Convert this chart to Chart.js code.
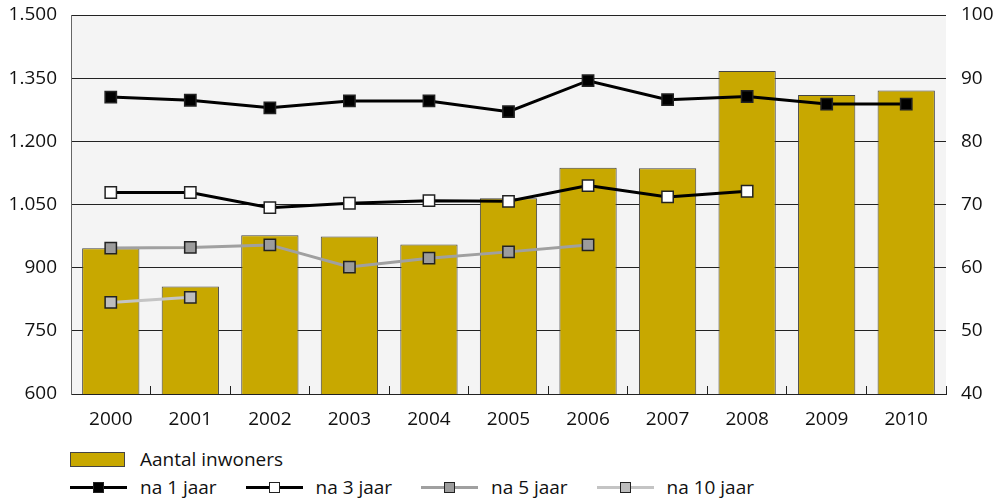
<!DOCTYPE html>
<html>
<head>
<meta charset="utf-8">
<script src="https://cdn.jsdelivr.net/npm/chart.js@4"></script>
<style>
  body { margin: 0; background: #fff; width: 1001px; height: 498px; overflow: hidden; position: relative; font-family: 'Open Sans', sans-serif; }
  #wrap { position: absolute; left: 0; top: 0; width: 1001px; height: 440px; }
  .leg { position: absolute; font-size: 19px; color: #111; line-height: 20px; white-space: nowrap; }
  .box { position: absolute; width: 55px; height: 15px; border: 1px solid #444; box-sizing: border-box; }
  .ln { position: absolute; width: 57px; height: 0; }
  .mk { position: absolute; width: 11px; height: 11px; box-sizing: border-box; border: 1.5px solid #222; }
</style>
</head>
<body>
<div id="wrap"><canvas id="chart" width="1001" height="440"></canvas></div>
<div id="legend"></div>
<script>
// data
const years = ['2000', '2001', '2002', '2003', '2004', '2005', '2006', '2007', '2008', '2009', '2010'];
const inwoners = [946, 855, 977, 974, 955, 1065, 1137, 1136, 1367, 1310, 1321];
const na1jaar = [87.0, 86.5, 85.3, 86.4, 86.4, 84.7, 89.6, 86.6, 87.1, 85.9, 85.9];
const na3jaar = [71.9, 71.9, 69.5, 70.2, 70.6, 70.5, 73.0, 71.2, 72.1, null, null];
const na5jaar = [63.1, 63.2, 63.6, 60.1, 61.5, 62.5, 63.6, null, null, null, null];
const na10jaar = [54.5, 55.3, null, null, null, null, null, null, null, null, null];

const barColor = '#c8a800';

const fmt = v => String(v).replace(/\B(?=(\d{3})+(?!\d))/g, '.');

const lineSets = [
    { label: 'na 1 jaar', data: na1jaar, line: '#000', fill: '#000', width: 3 },
    { label: 'na 3 jaar', data: na3jaar, line: '#000', fill: '#fff', width: 3 },
    { label: 'na 5 jaar', data: na5jaar, line: '#a0a0a0', fill: '#9c9c9c', width: 3 },
    { label: 'na 10 jaar', data: na10jaar, line: '#c4c4c4', fill: '#bdbdbd', width: 3 }
];

// plot background
const plotBg = {
    id: 'plotBg',
    beforeDraw(chart) {
        const a = chart.chartArea;
        const c = chart.ctx;
        c.save();
        c.fillStyle = '#f4f4f4';
        c.fillRect(a.left, a.top, a.right - a.left, a.bottom - a.top);
        c.restore();
    }
};

// fixed axis sizes so the plot area sits where the original has it
const fixV = w => s => { s.width = w; s.paddingTop = 0; s.paddingBottom = 0; };

const ctx = document.getElementById('chart').getContext('2d');
Chart.defaults.font.family = "'Open Sans', sans-serif";
Chart.defaults.font.size = 19;
Chart.defaults.color = '#111';

new Chart(ctx, {
    type: 'bar',
    data: {
        labels: years,
        datasets: [
            {
                type: 'bar',
                label: 'Aantal inwoners',
                data: inwoners,
                backgroundColor: barColor,
                borderColor: '#444',
                borderWidth: 1,
                barPercentage: 0.72,
                categoryPercentage: 1,
                yAxisID: 'y',
                order: 2
            },
            ...lineSets.map(s => ({
                type: 'line',
                label: s.label,
                data: s.data,
                borderColor: s.line,
                borderWidth: s.width,
                pointStyle: 'rect',
                pointRadius: 8,
                pointHoverRadius: 8,
                pointBackgroundColor: s.fill,
                pointBorderColor: '#222',
                pointBorderWidth: 1.5,
                tension: 0,
                spanGaps: false,
                yAxisID: 'y2',
                order: 1
            }))
        ]
    },
    plugins: [plotBg],
    options: {
        responsive: false,
        animation: false,
        layout: { padding: { top: 15, left: 0, right: 0, bottom: 0 } },
        plugins: {
            legend: { display: false },
            tooltip: { enabled: false }
        },
        scales: {
            x: {
                offset: true,
                grid: {
                    offset: true,
                    drawOnChartArea: false,
                    drawTicks: true,
                    tickLength: -8,
                    color: '#222'
                },
                border: { display: true, color: '#222', width: 1 },
                ticks: { padding: 22, color: '#111', font: { size: 19 } },
                afterFit: s => { s.height = 46; }
            },
            y: {
                position: 'left',
                min: 600,
                max: 1500,
                ticks: { stepSize: 150, padding: 14, callback: v => fmt(v) },
                grid: { color: '#222', drawTicks: false },
                border: { display: true, color: '#666', width: 1 },
                afterFit: fixV(71)
            },
            y2: {
                position: 'right',
                min: 40,
                max: 100,
                ticks: { stepSize: 10, padding: 15 },
                grid: { drawOnChartArea: false, drawTicks: false },
                border: { display: false },
                afterFit: fixV(55)
            }
        }
    }
});

// legend below the chart
const legend = document.getElementById('legend');
function add(html) { legend.insertAdjacentHTML('beforeend', html); }

add(`<div class="box" style="left:70px;top:452px;background:${barColor}"></div>`);
add(`<div class="leg" style="left:140px;top:449px">Aantal inwoners</div>`);

const step = 175.5;
lineSets.forEach((s, i) => {
    const x0 = 70 + i * step;
    add(`<div class="ln" style="left:${x0}px;top:486px;border-top:${s.width}px solid ${s.line}"></div>`);
    add(`<div class="mk" style="left:${x0 + 23}px;top:482px;background:${s.fill}"></div>`);
    add(`<div class="leg" style="left:${x0 + 70}px;top:477px">${s.label}</div>`);
});
</script>
</body>
</html>
